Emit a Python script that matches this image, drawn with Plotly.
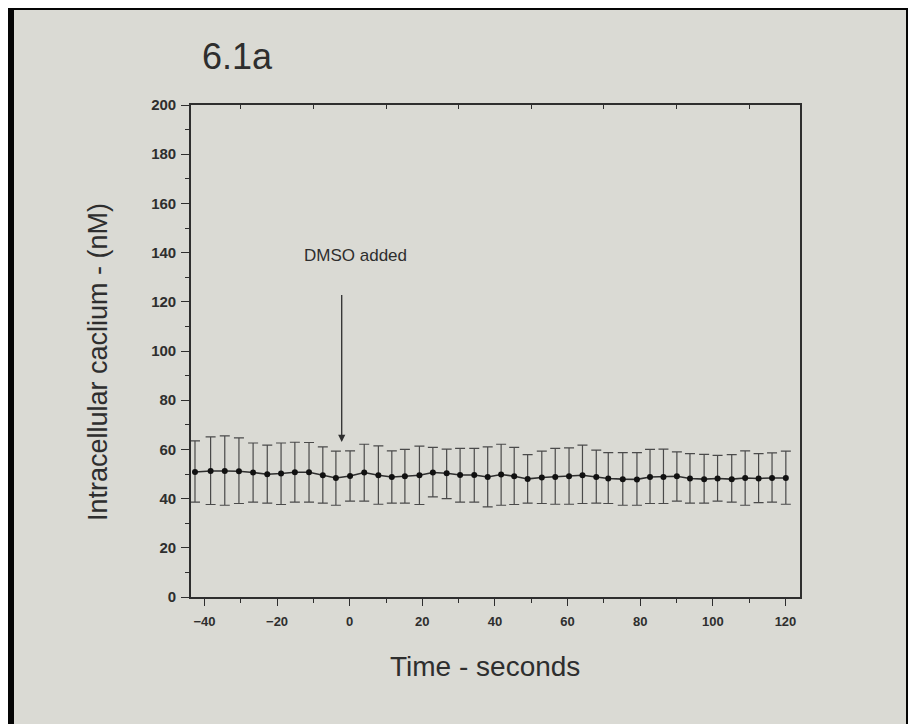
import plotly.graph_objects as go

# ---- data ----
time_s = [-42.6, -38.3, -34.4, -30.5, -26.6, -22.7, -18.9, -15.1, -11.2, -7.4, -3.8, 0.1, 4.0, 7.9, 11.6,
          15.2, 19.2, 22.9, 26.7, 30.4, 34.3, 38.0, 41.7, 45.3, 49.0, 52.9, 56.6, 60.4, 64.1, 67.9, 71.2,
          75.2, 79.1, 82.7, 86.4, 90.1, 93.7, 97.6, 101.3, 105.2, 108.9, 112.6, 116.3, 120.1]
calcium_nM = [50.8, 51.2, 51.2, 51.1, 50.6, 49.9, 50.2, 50.7, 50.7, 49.5, 48.4, 49.2, 50.6, 49.5, 48.8,
              49.1, 49.5, 50.6, 50.3, 49.6, 49.6, 48.8, 49.8, 49.1, 48.0, 48.6, 48.8, 49.1, 49.5, 48.8, 48.2,
              47.9, 47.8, 48.8, 48.8, 49.1, 48.2, 47.9, 48.2, 47.9, 48.4, 48.2, 48.4, 48.4]
upper_nM = [63.5, 65.1, 65.5, 64.7, 62.6, 61.7, 62.6, 62.9, 62.8, 61.0, 59.3, 59.4, 62.1, 61.4, 59.4,
            60.0, 61.3, 60.8, 60.1, 60.4, 60.4, 61.0, 62.1, 60.8, 57.9, 59.3, 60.4, 60.6, 61.7, 59.7, 58.7,
            58.7, 58.7, 60.0, 60.1, 59.0, 58.3, 58.0, 57.6, 57.9, 59.4, 58.3, 58.6, 59.3]
lower_nM = [38.6, 37.6, 37.3, 38.0, 38.6, 38.2, 37.6, 38.6, 38.6, 38.2, 37.3, 39.0, 39.0, 37.7, 38.2,
            38.2, 37.6, 40.7, 40.0, 38.6, 38.6, 36.6, 37.3, 37.6, 38.2, 38.0, 37.7, 37.7, 38.0, 38.2, 38.0,
            37.3, 37.3, 38.0, 38.0, 39.0, 38.2, 38.2, 39.0, 38.6, 37.3, 38.4, 38.6, 37.7]

x_ticks = [-40, -20, 0, 20, 40, 60, 80, 100, 120]
y_ticks = [0, 20, 40, 60, 80, 100, 120, 140, 160, 180, 200]
top_ticks = [-30, -10, 10, 30, 50, 70, 90, 110]

arrow_x = -2.2
arrow_tail_y = 123.4
arrow_head_y = 63.0
label_text = "DMSO added"
label_x = 1.5
label_y = 139

err_plus = [u - m for u, m in zip(upper_nM, calcium_nM)]
err_minus = [m - l for m, l in zip(calcium_nM, lower_nM)]

INK = "#2e2e2e"
BG = "#dadad4"
FONT = "Liberation Sans, Arial, sans-serif"

# figure margins (page body adds 8px offset)
ML, MR, MT, MB = 183, 124, 97, 135
PW, PH = 916 - ML - MR, 724 - MT - MB

fig = go.Figure()
fig.add_trace(go.Scatter(
    x=time_s, y=calcium_nM, mode="lines+markers",
    line=dict(color=INK, width=1.6),
    marker=dict(color="#111111", size=6),
    error_y=dict(type="data", symmetric=False, array=err_plus, arrayminus=err_minus,
                 color="#4a4a4a", thickness=1.2, width=5),
    showlegend=False,
))
# carrier for the top (mirror) axis
fig.add_trace(go.Scatter(x=[None], y=[None], xaxis="x2", showlegend=False, hoverinfo="skip"))

fig.update_layout(
    width=916, height=724,
    margin=dict(l=ML, r=MR, t=MT, b=MB),
    paper_bgcolor=BG, plot_bgcolor=BG,
    font=dict(family=FONT, color=INK),
    xaxis=dict(
        range=[-43.7, 124.0], tickvals=x_ticks, ticks="outside", ticklen=7, tickwidth=1.3,
        tickcolor=INK, showline=True, linecolor=INK, linewidth=1.6, showgrid=False, zeroline=False,
        tickfont=dict(size=13, family=FONT, color=INK, weight="bold"), ticklabelstandoff=5,
        minor=dict(dtick=10, tick0=-40, ticks="outside", ticklen=4, tickcolor=INK, showgrid=False),
    ),
    xaxis2=dict(
        overlaying="x", side="top", matches="x", range=[-43.7, 124.0], tickvals=top_ticks,
        ticks="inside", ticklen=4, tickwidth=1.3, tickcolor=INK, showticklabels=False,
        showline=True, linecolor=INK, linewidth=1.6, showgrid=False, zeroline=False,
    ),
    yaxis=dict(
        range=[0, 200], tickvals=y_ticks, ticks="outside", ticklen=8, tickwidth=1.3,
        tickcolor=INK, showline=True, linecolor=INK, linewidth=1.6, showgrid=False, zeroline=False,
        mirror=True,
        tickfont=dict(size=15, family=FONT, color=INK, weight="bold"), ticklabelstandoff=2,
        minor=dict(dtick=10, ticks="outside", ticklen=4, tickcolor=INK, showgrid=False),
    ),
    annotations=[
        dict(x=label_x, y=label_y, xref="x", yref="y", text=label_text, showarrow=False,
             font=dict(size=17, family=FONT, color=INK)),
        dict(x=arrow_x, y=arrow_head_y, ax=arrow_x, ay=arrow_tail_y, xref="x", yref="y",
             axref="x", ayref="y", text="", showarrow=True, arrowhead=2, arrowsize=1.1,
             arrowwidth=1.3, arrowcolor=INK),
        dict(x=(192 - ML) / PW, y=1 + (MT - 49) / PH, xref="paper", yref="paper", text="6.1a",
             showarrow=False, xanchor="left", yanchor="middle",
             font=dict(size=36, family=FONT, color=INK)),
        dict(x=(90 - ML) / PW, y=(MT + PH - 354) / PH, xref="paper", yref="paper",
             text="Intracellular caclium - (nM)", textangle=-90, showarrow=False,
             xanchor="center", yanchor="middle", font=dict(size=27, family=FONT, color=INK)),
        dict(x=(477 - ML) / PW, y=(MT + PH - 658) / PH, xref="paper", yref="paper",
             text="Time - seconds", showarrow=False, xanchor="center", yanchor="middle",
             font=dict(size=28, family=FONT, color=INK)),
    ],
    shapes=[
        # dark photo edges
        dict(type="rect", xref="paper", yref="paper", x0=-ML / PW, x1=(6 - ML) / PW,
             y0=-MB / PH, y1=1 + MT / PH, fillcolor="#050505", line=dict(width=0), layer="above"),
        dict(type="rect", xref="paper", yref="paper", x0=-ML / PW, x1=1 + MR / PW,
             y0=1 + (MT - 2) / PH, y1=1 + MT / PH, fillcolor="#050505", line=dict(width=0), layer="above"),
        dict(type="rect", xref="paper", yref="paper", x0=(898 - ML) / PW, x1=1 + MR / PW,
             y0=-MB / PH, y1=1 + MT / PH, fillcolor="#050505", line=dict(width=0), layer="above"),
    ],
)

fig.write_html("out.html")
